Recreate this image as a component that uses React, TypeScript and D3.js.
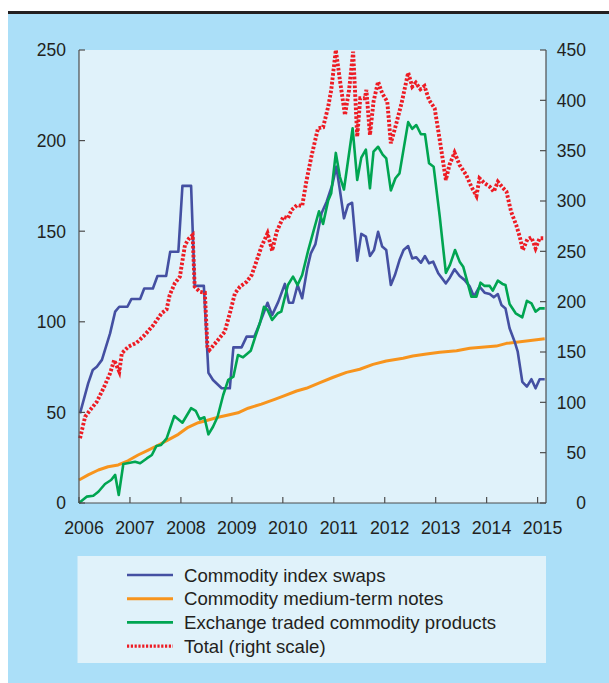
import React from "react";
import * as d3 from "d3";

// [decimal year, value]
const swaps: [number, number][] = [
  [2006.02, 49.5], [2006.18, 66], [2006.27, 73.4], [2006.35, 75.2], [2006.45, 79],
  [2006.61, 93.6], [2006.71, 105.6], [2006.79, 108.3], [2006.95, 108.3], [2007.03, 112.6],
  [2007.2, 112.6], [2007.28, 118.4], [2007.45, 118.4], [2007.54, 125.3], [2007.71, 125.3],
  [2007.79, 138.7], [2007.95, 138.7], [2008.03, 175], [2008.2, 175], [2008.27, 119.8],
  [2008.45, 119.8], [2008.54, 71.9], [2008.63, 67.9], [2008.8, 63.3], [2008.96, 63.3],
  [2009.03, 85.9], [2009.19, 85.9], [2009.29, 91.8], [2009.44, 91.8], [2009.52, 97.3],
  [2009.61, 103.7], [2009.7, 110.5], [2009.79, 103.7], [2009.91, 111], [2010.04, 120.9],
  [2010.12, 110.5], [2010.2, 110.5], [2010.29, 120.3], [2010.38, 113], [2010.48, 129.5],
  [2010.55, 137.8], [2010.64, 142.9], [2010.76, 159.9], [2010.86, 166.3], [2010.97, 175.5],
  [2011.05, 185.6], [2011.12, 172.7], [2011.2, 157.1], [2011.28, 164.5], [2011.36, 165.7],
  [2011.46, 133.7], [2011.54, 148.5], [2011.63, 147], [2011.71, 136.3], [2011.79, 139.6],
  [2011.87, 149.7], [2011.95, 141.5], [2012.03, 139.6], [2012.12, 120.3], [2012.2, 125.8],
  [2012.29, 134.1], [2012.37, 139.6], [2012.46, 141.8], [2012.54, 135], [2012.62, 135.6],
  [2012.71, 132.6], [2012.79, 136.3], [2012.87, 132.3], [2012.95, 133.2], [2013.05, 126.8],
  [2013.2, 121.2], [2013.28, 124.5], [2013.37, 129], [2013.47, 125.3], [2013.57, 123],
  [2013.67, 119.4], [2013.75, 113.9], [2013.86, 119.4], [2013.96, 116.1], [2014.06, 115.3],
  [2014.14, 113.5], [2014.22, 115.3], [2014.29, 109.3], [2014.37, 107.4], [2014.45, 96.4],
  [2014.55, 89], [2014.61, 83.5], [2014.7, 66.9], [2014.79, 64.2], [2014.88, 68.3],
  [2014.96, 63.3], [2015.04, 68.3], [2015.14, 68.3],
];

const mediumTermNotes: [number, number][] = [
  [2006.0, 12.7], [2006.18, 15.5], [2006.38, 18.2], [2006.57, 20], [2006.77, 21],
  [2006.96, 23.3], [2007.16, 26.5], [2007.36, 29.2], [2007.56, 32], [2007.75, 34.8],
  [2007.95, 37.9], [2008.14, 41.8], [2008.34, 44.3], [2008.54, 45.8], [2008.73, 47.3],
  [2008.93, 48.6], [2009.12, 49.8], [2009.32, 52.3], [2009.58, 54.6], [2009.84, 57.2],
  [2010.01, 59], [2010.27, 61.8], [2010.46, 63.3], [2010.73, 66.4], [2010.99, 69.4],
  [2011.25, 72.1], [2011.51, 73.8], [2011.77, 76.5], [2012.03, 78.4], [2012.36, 79.9],
  [2012.55, 81.1], [2012.82, 82.2], [2013.08, 83.2], [2013.41, 84], [2013.67, 85.4],
  [2014.19, 86.6], [2014.39, 88.1], [2015.14, 90.7],
];

const exchangeTraded: [number, number][] = [
  [2006.0, 0], [2006.15, 3.5], [2006.28, 4], [2006.38, 6.2], [2006.51, 10.5],
  [2006.63, 12.7], [2006.71, 15.5], [2006.78, 4.4], [2006.87, 21.5], [2007.0, 22.2],
  [2007.1, 22.8], [2007.2, 21.9], [2007.33, 24.6], [2007.43, 26.5], [2007.52, 31.5],
  [2007.61, 32], [2007.72, 35.7], [2007.87, 48], [2008.03, 44.3], [2008.2, 52.3],
  [2008.29, 50.9], [2008.37, 46.2], [2008.46, 47.3], [2008.54, 37.9], [2008.63, 42.1],
  [2008.72, 47.6], [2008.83, 59.6], [2008.93, 68], [2009.03, 69.7], [2009.12, 81.7],
  [2009.22, 80.4], [2009.37, 84], [2009.46, 91.8], [2009.55, 99.2], [2009.63, 108.3],
  [2009.7, 106.5], [2009.79, 101], [2009.9, 104.7], [2009.97, 105.6], [2010.1, 120.3],
  [2010.2, 124.9], [2010.29, 120.3], [2010.38, 125.8], [2010.5, 139.6], [2010.59, 148.8],
  [2010.71, 161], [2010.79, 154], [2010.89, 167], [2010.95, 171], [2011.04, 193.2],
  [2011.12, 180], [2011.2, 173], [2011.37, 206.8], [2011.46, 178.3], [2011.54, 190.6],
  [2011.63, 195], [2011.71, 173.7], [2011.78, 193.9], [2011.87, 196.6], [2011.96, 192.3],
  [2012.03, 190.2], [2012.12, 172.5], [2012.21, 179.2], [2012.29, 181.9], [2012.46, 210.2],
  [2012.54, 206.5], [2012.62, 208.6], [2012.71, 203.5], [2012.79, 203.5], [2012.87, 187.5],
  [2012.96, 185.6], [2013.08, 158], [2013.2, 127], [2013.28, 131.4], [2013.38, 139.6],
  [2013.47, 133.2], [2013.54, 130.4], [2013.7, 113.9], [2013.8, 113.9], [2013.88, 121.6],
  [2013.96, 119.8], [2014.06, 119.8], [2014.12, 117.2], [2014.22, 122.7], [2014.31, 120.9],
  [2014.37, 120.3], [2014.45, 109.8], [2014.57, 104.7], [2014.7, 102.5], [2014.79, 111.6],
  [2014.88, 110.2], [2014.96, 105.6], [2015.04, 107.4], [2015.14, 107.4],
];

const totalRight: [number, number][] = [
  [2006.02, 64.3], [2006.12, 85.7], [2006.22, 92.4], [2006.35, 100.6], [2006.48, 113.9],
  [2006.61, 128.8], [2006.69, 142], [2006.79, 130.4], [2006.84, 148.7], [2006.97, 155.3],
  [2007.13, 159.2], [2007.29, 166.9], [2007.46, 176.8], [2007.62, 188.4], [2007.72, 192.4],
  [2007.78, 206.6], [2007.88, 218.2], [2007.98, 224.8], [2008.08, 256.3], [2008.16, 262.9],
  [2008.23, 266.2], [2008.27, 214.9], [2008.37, 209.9], [2008.47, 208.9], [2008.52, 155.3],
  [2008.56, 152], [2008.7, 160.2], [2008.86, 170.2], [2008.96, 188.4], [2009.06, 208.3],
  [2009.16, 214.9], [2009.29, 219.8], [2009.39, 226.5], [2009.48, 239.7], [2009.58, 254.6],
  [2009.7, 267.9], [2009.79, 250.6], [2009.88, 269.5], [2010.01, 284.4], [2010.1, 282.8],
  [2010.17, 291], [2010.28, 296], [2010.38, 295], [2010.46, 319], [2010.56, 344],
  [2010.69, 372.2], [2010.79, 373.2], [2010.89, 393.6], [2010.95, 410.3], [2011.04, 450],
  [2011.12, 420.2], [2011.22, 385.4], [2011.3, 410.3], [2011.38, 448.3], [2011.46, 363.9],
  [2011.52, 402], [2011.61, 402], [2011.64, 410.3], [2011.71, 365.6], [2011.78, 398.7],
  [2011.87, 418.5], [2011.95, 407], [2012.05, 398.7], [2012.12, 357.3], [2012.22, 375.5],
  [2012.33, 397], [2012.46, 427.5], [2012.54, 413.6], [2012.61, 417.5], [2012.7, 411],
  [2012.78, 414.2], [2012.87, 400.3], [2012.98, 392.1], [2013.08, 360.6], [2013.2, 320.9],
  [2013.27, 335.8], [2013.37, 348], [2013.47, 335.8], [2013.6, 325.8], [2013.7, 314.2],
  [2013.8, 305], [2013.86, 322.5], [2013.96, 317.6], [2014.06, 314.2], [2014.14, 309.2],
  [2014.22, 319.2], [2014.31, 313.6], [2014.39, 309.2], [2014.48, 289.4], [2014.58, 276.2],
  [2014.65, 264.5], [2014.71, 251.3], [2014.8, 262], [2014.88, 263.9], [2014.96, 253],
  [2015.04, 263], [2015.14, 263],
];

const yearTicks = [2006, 2007, 2008, 2009, 2010, 2011, 2012, 2013, 2014, 2015];
const leftTicks = [0, 50, 100, 150, 200, 250];
const rightTicks = [0, 50, 100, 150, 200, 250, 300, 350, 400, 450];
const legendLabels = [
  "Commodity index swaps",
  "Commodity medium-term notes",
  "Exchange traded commodity products",
  "Total (right scale)",
];

const COLORS = {
  swaps: "#4450a2",
  mtn: "#f7941d",
  etcp: "#00a551",
  total: "#ed1c24",
};

export default function App() {
  const W = 609;
  const H = 683;
  const left = 79;
  const right = 546;
  const top = 50;
  const bottom = 503;

  const x = d3.scaleLinear().domain([2006, 2015.165]).range([left, right]);
  const yL = d3.scaleLinear().domain([0, 250]).range([bottom, top]);
  const yR = d3.scaleLinear().domain([0, 450]).range([bottom, top]);

  const lineL = d3
    .line<[number, number]>()
    .x((d) => x(d[0]))
    .y((d) => yL(d[1]));
  const lineR = d3
    .line<[number, number]>()
    .x((d) => x(d[0]))
    .y((d) => yR(d[1]));

  const font = "'Liberation Sans', Arial, sans-serif";
  const txt = "#231f20";
  const axisCol = "#4d4d4d";

  const legendItems = [
    { label: legendLabels[0], color: COLORS.swaps, dash: undefined, w: 2.6 },
    { label: legendLabels[1], color: COLORS.mtn, dash: undefined, w: 3 },
    { label: legendLabels[2], color: COLORS.etcp, dash: undefined, w: 2.6 },
    { label: legendLabels[3], color: COLORS.total, dash: "2.2 1.6", w: 3.2 },
  ];

  return (
    <svg
      width={W}
      height={H}
      style={{ position: "absolute", left: 0, top: 0, display: "block" }}
    >
      <rect x={0} y={0} width={W} height={H} fill="#ffffff" />
      <rect x={8} y={14} width={W - 8} height={H - 14} fill="#abdff8" />
      <line x1={8} x2={W} y1={12.5} y2={12.5} stroke="#231f20" strokeWidth={3} />

      {/* plot area */}
      <rect x={left} y={top} width={right - left} height={bottom - top} fill="#e0f2fa" />

      {/* series */}
      <path d={lineL(mediumTermNotes) || ""} fill="none" stroke={COLORS.mtn} strokeWidth={3} strokeLinejoin="round" />
      <path d={lineL(swaps) || ""} fill="none" stroke={COLORS.swaps} strokeWidth={2.6} strokeLinejoin="round" />
      <path d={lineL(exchangeTraded) || ""} fill="none" stroke={COLORS.etcp} strokeWidth={2.6} strokeLinejoin="round" />
      <path
        d={lineR(totalRight) || ""}
        fill="none"
        stroke={COLORS.total}
        strokeWidth={3.9}
        strokeDasharray="2.6 1.8"
        strokeLinejoin="miter"
      />

      {/* axes */}
      <line x1={left} x2={left} y1={top} y2={bottom} stroke={axisCol} strokeWidth={1.2} />
      <line x1={right} x2={right} y1={top} y2={bottom} stroke={axisCol} strokeWidth={1.2} />
      <line x1={left} x2={right} y1={bottom} y2={bottom} stroke={axisCol} strokeWidth={1.2} />

      {leftTicks.map((t) => (
        <g key={"l" + t}>
          <line x1={left} x2={left + 6} y1={yL(t)} y2={yL(t)} stroke={axisCol} strokeWidth={1.2} />
          <text
            x={66}
            y={yL(t)}
            dy="0.36em"
            textAnchor="end"
            fontFamily={font}
            fontSize={17.5}
            fill={txt}
          >
            {t}
          </text>
        </g>
      ))}
      {rightTicks.map((t) => (
        <g key={"r" + t}>
          <line x1={right - 6} x2={right} y1={yR(t)} y2={yR(t)} stroke={axisCol} strokeWidth={1.2} />
          <text
            x={586}
            y={yR(t)}
            dy="0.36em"
            textAnchor="end"
            fontFamily={font}
            fontSize={17.5}
            fill={txt}
          >
            {t}
          </text>
        </g>
      ))}
      {yearTicks.map((t) => (
        <g key={"x" + t}>
          <line x1={x(t)} x2={x(t)} y1={bottom} y2={bottom - 6} stroke={axisCol} strokeWidth={1.2} />
          <text
            x={x(t) + 5}
            y={528}
            dy="0.36em"
            textAnchor="middle"
            fontFamily={font}
            fontSize={17.8}
            fill={txt}
          >
            {t}
          </text>
        </g>
      ))}

      {/* legend */}
      <rect x={77.5} y={556} width={468.5} height={107} fill="#e0f2fa" />
      {legendItems.map((it, i) => {
        const cy = 575 + i * 23.7;
        return (
          <g key={it.label}>
            <line
              x1={127}
              x2={173}
              y1={cy}
              y2={cy}
              stroke={it.color}
              strokeWidth={it.w}
              strokeDasharray={it.dash}
            />
            <text x={184} y={cy} dy="0.36em" fontFamily={font} fontSize={18.6} fill={txt}>
              {it.label}
            </text>
          </g>
        );
      })}
    </svg>
  );
}
